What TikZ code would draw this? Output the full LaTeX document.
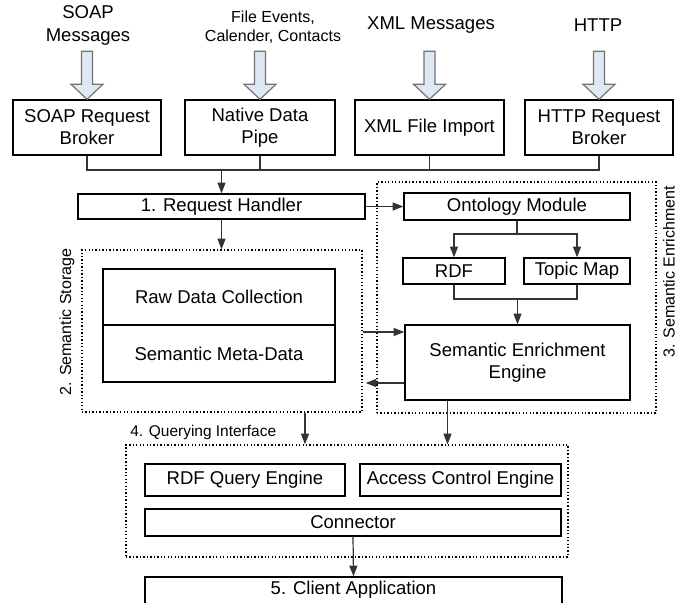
\documentclass[tikz,border=0pt]{standalone}
\usepackage{fontspec}
\setmainfont{Liberation Sans}
\usetikzlibrary{fit,calc,arrows.meta}
\newcommand\bigfnt{\fontsize{13.9}{16.5}\selectfont}
\newcommand\midfnt{\fontsize{12}{14.25}\selectfont}
\newcommand\smallfnt{\fontsize{11.6}{14}\selectfont}
\definecolor{arrowfill}{HTML}{DFE8F5}
\tikzset{
  box/.style={draw, line width=1.1pt, inner sep=0pt},
  dotbox/.style={draw, line width=1pt, dash pattern=on 1pt off 1.6pt, inner sep=0pt},
  conn/.style={line width=0.9pt, draw=black!80},
  arr/.style={conn, -{Triangle[length=8pt,width=6pt]}},
  barrow/.style={draw=black!55, fill=arrowfill, line width=0.9pt, line join=miter},
  lbl/.style={align=center, inner sep=0pt},
  btxt/.style={lbl, font=\bigfnt}
}
\newcommand\blockarrow[1]{%
  \draw[barrow] ($(#1.north)+(-5.5,-48)$) -- ($(#1.north)+(5.5,-48)$) --
    ($(#1.north)+(5.5,-15)$) -- ($(#1.north)+(16,-15)$) -- (#1.north) --
    ($(#1.north)+(-16,-15)$) -- ($(#1.north)+(-5.5,-15)$) -- cycle;}
\begin{document}
\begin{tikzpicture}[x=0.75pt,y=-0.75pt]
\clip (0,0) rectangle (680,602);
\fill[white] (0,0) rectangle (680,602);

% top labels
\node[lbl, font=\fontsize{13.9}{17.25}\selectfont] (lsoap) at (88,25.5) {SOAP\\Messages};
\node[lbl, font=\midfnt] (lnat) at (273,27.5) {File Events,\\Calender, Contacts};
\node[btxt] (lxml) at (431,25) {XML Messages};
\node[btxt] (lhttp) at (598,25) {HTTP};

% input boxes
\node[box, fit={(13,100)(161,155)}] (soap) {};
\node[btxt] at (soap.center) {SOAP Request\\Broker};
\node[box, fit={(185,100)(335,155)}] (native) {};
\node[btxt] at (native.center) {Native Data\\Pipe};
\node[box, fit={(355,100)(504,155)}] (xml) {};
\node[btxt] at (xml.center) {XML File Import};
\node[box, fit={(525,100)(673,155)}] (http) {};
\node[btxt] at (http.center) {HTTP Request\\Broker};

\blockarrow{soap}
\blockarrow{native}
\blockarrow{xml}
\blockarrow{http}

% request handler
\node[box, fit={(78,194)(365,219)}] (rh) {};
\node[btxt] at (rh.center) {1. Request Handler};

% bus
\coordinate (busy) at (0,170);
\draw[conn] (soap.south) -- (soap.south |- busy) -- (http.south |- busy) -- (http.south);
\draw[conn] (native.south) -- (native.south |- busy);
\draw[conn] (xml.south) -- (xml.south |- busy);
\draw[arr] (rh.north |- busy) -- (rh.north);

% semantic storage
\node[dotbox, fit={(82,250)(362,412)}] (stor) {};
\node[box, fit={(103,269)(335,325)}] (raw) {};
\node[btxt] at (raw.center) {Raw Data Collection};
\node[box, fit={(103,325)(335,382)}] (meta) {};
\node[btxt] at (meta.center) {Semantic Meta-Data};
\node[lbl, font=\midfnt, rotate=90] (lstor) at (67,322) {2. Semantic Storage};

% semantic enrichment
\node[dotbox, fit={(377,182)(656,413)}] (enr) {};
\node[lbl, font=\midfnt, rotate=90] (lenr) at (669,272) {3. Semantic Enrichment};
\node[box, fit={(404,193)(630,220)}] (onto) {};
\node[btxt] at (onto.center) {Ontology Module};
\node[box, fit={(403,258)(505,284)}] (rdf) {};
\node[btxt] at (rdf.center) {RDF};
\node[box, fit={(524,258)(630,284)}] (tm) {};
\node[btxt] at (tm.center) {Topic Map};
\node[box, fit={(405,325)(630,400)}] (see) {};
\node[btxt] at (see.center) {Semantic Enrichment\\Engine};

\draw[arr] (rh.east) -- (onto.west);
\draw[arr] (rh.south) -- (rh.south |- stor.north);

\coordinate (splity) at (0,234);
\draw[conn] (onto.south) -- (onto.south |- splity);
\draw[arr] (onto.south |- splity) -| (rdf.north);
\draw[arr] (onto.south |- splity) -| (tm.north);

\coordinate (joint) at (517.5,299);
\draw[conn] (rdf.south) |- (joint);
\draw[conn] (tm.south) |- (joint);
\draw[arr] (joint) -- (see.north);

\coordinate (ya) at (0,332);
\coordinate (yb) at (0,383);
\draw[arr] (stor.east |- ya) -- (see.west |- ya);
\draw[arr] (see.west |- yb) -- ($(stor.east |- yb)+(3,0)$);

% querying interface
\node[dotbox, fit={(126,445)(568,557)}] (query) {};
\node[lbl, font=\smallfnt, anchor=west] (lquery) at (130,432) {4. Querying Interface};
\node[box, fit={(145,464)(345,496)}] (rqe) {};
\node[btxt] at (rqe.center) {RDF Query Engine};
\node[box, fit={(360,464)(561,496)}] (ace) {};
\node[btxt] at (ace.center) {Access Control Engine};
\node[box, fit={(145,509)(561,536)}] (connector) {};
\node[btxt] at (connector.center) {Connector};

\coordinate (xa) at (305,0);
\coordinate (xb) at (447.5,0);
\draw[arr] (stor.south -| xa) -- (query.north -| xa);
\draw[arr] (see.south -| xb) -- (query.north -| xb);

% client
\node[box, fit={(145,577)(562,604)}] (client) {};
\node[btxt] (lclient) at (353.5,590) {5. Client Application};
\draw[arr] (connector.south) -- (client.north);
\end{tikzpicture}
\end{document}
